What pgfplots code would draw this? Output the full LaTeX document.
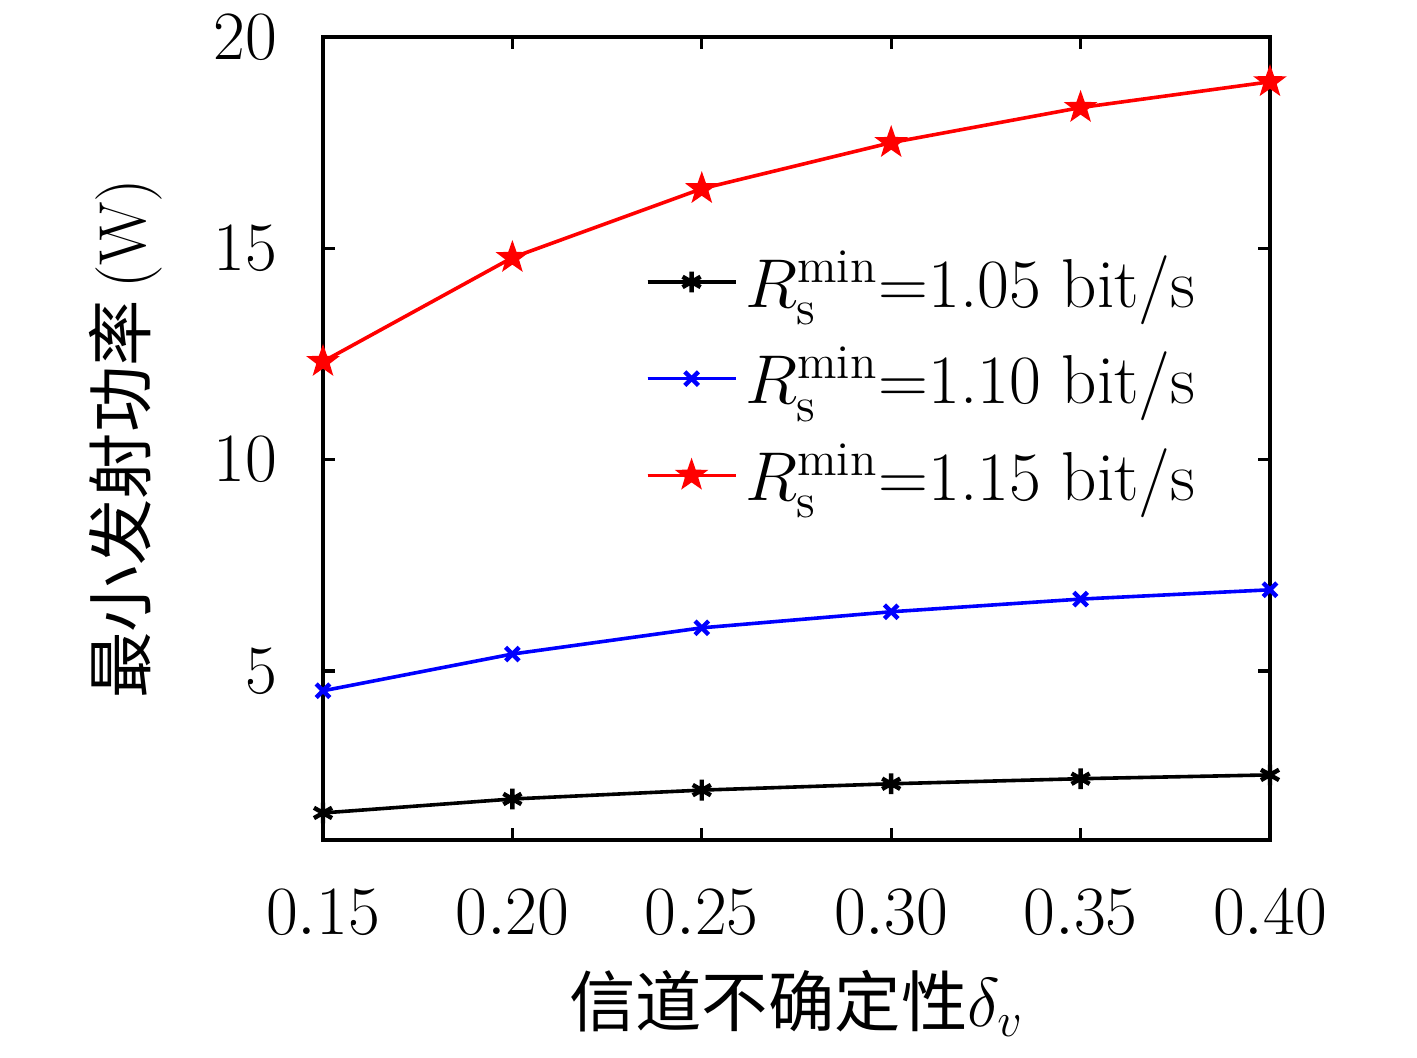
\documentclass[border=0pt]{standalone}
\usepackage{pgfplots}
\pgfplotsset{compat=1.18}
\usepackage{fontspec}
\newfontfamily\cjk{Noto Sans CJK SC}
\pgfdeclareplotmark{fstar}{%
  \pgfpathmoveto{\pgfpointpolar{90}{\pgfplotmarksize}}%
  \pgfpathlineto{\pgfpointpolar{126}{0.4\pgfplotmarksize}}%
  \pgfpathlineto{\pgfpointpolar{162}{\pgfplotmarksize}}%
  \pgfpathlineto{\pgfpointpolar{198}{0.4\pgfplotmarksize}}%
  \pgfpathlineto{\pgfpointpolar{234}{\pgfplotmarksize}}%
  \pgfpathlineto{\pgfpointpolar{270}{0.4\pgfplotmarksize}}%
  \pgfpathlineto{\pgfpointpolar{306}{\pgfplotmarksize}}%
  \pgfpathlineto{\pgfpointpolar{342}{0.4\pgfplotmarksize}}%
  \pgfpathlineto{\pgfpointpolar{18}{\pgfplotmarksize}}%
  \pgfpathlineto{\pgfpointpolar{54}{0.4\pgfplotmarksize}}%
  \pgfpathclose
  \pgfusepathqfillstroke}
\begin{document}
\begin{tikzpicture}[x=1pt,y=1pt]
\path[use as bounding box] (-80.75,-54.5) rectangle (273.5,210);
\begin{axis}[
  at={(0,0)}, anchor=south west,
  scale only axis, width=236.75pt, height=200.75pt,
  xmin=0.15, xmax=0.40, ymin=1, ymax=20,
  xtick={0.15,0.20,0.25,0.30,0.35,0.40},
  ytick={5,10,15,20},
  tick align=inside, major tick length=3pt,
  tick style={line width=0.8pt,black},
  axis line style={line width=0.8pt},
  xticklabel style={/pgf/number format/fixed,/pgf/number format/precision=2,/pgf/number format/fixed zerofill, yshift=-9pt},
  yticklabel style={xshift=-8pt},
  ticklabel style={font=\fontsize{17.8}{20}\selectfont},
  xlabel={{\cjk 信道不确定性}$\delta_v$},
  ylabel={{\cjk 最小发射功率}\,(W)},
  label style={font=\fontsize{16.6}{19}\selectfont},
  xlabel style={yshift=-2pt},
  ylabel style={yshift=6pt},
  legend style={draw=none, fill=none, at={(rel axis cs:0.34,0.745)}, anchor=north west,
    font=\fontsize{17.3}{20}\selectfont, row sep=4.5pt, inner sep=0pt,
    nodes={inner xsep=2pt}},
  legend cell align=left,
  legend image code/.code={%
    \draw[#1] (0pt,0pt) -- (22pt,0pt);
    \draw[#1, mark repeat=2, mark phase=2] plot coordinates {(0pt,0pt) (11pt,0pt) (22pt,0pt)};},
]
\addplot[black, line width=0.9pt, mark=asterisk, mark size=2.6pt, mark options={line width=1.1pt}] coordinates {
(0.15,1.64) (0.20,1.97) (0.25,2.18) (0.30,2.33) (0.35,2.45) (0.40,2.54)};
\addlegendentry{$R_{\mathrm{s}}^{\min}$=1.05 bit/s}
\addplot[blue, line width=0.9pt, mark=x, mark size=2.4pt, mark options={line width=1.1pt}] coordinates {
(0.15,4.53) (0.20,5.40) (0.25,6.02) (0.30,6.40) (0.35,6.70) (0.40,6.92)};
\addlegendentry{$R_{\mathrm{s}}^{\min}$=1.10 bit/s}
\addplot[red, line width=0.9pt, mark=fstar, mark size=3.8pt, mark options={fill=red, line width=0.4pt}] coordinates {
(0.15,12.32) (0.20,14.78) (0.25,16.41) (0.30,17.50) (0.35,18.33) (0.40,18.94)};
\addlegendentry{$R_{\mathrm{s}}^{\min}$=1.15 bit/s}
\end{axis}
\end{tikzpicture}
\end{document}
